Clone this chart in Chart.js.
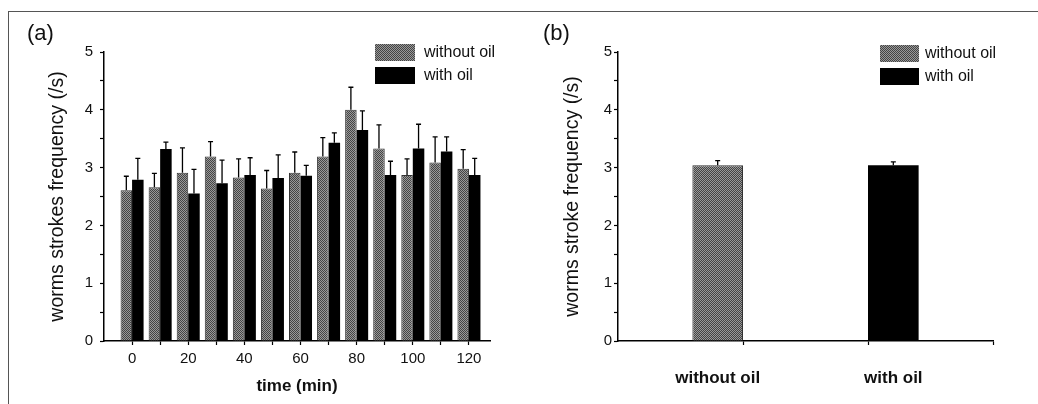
<!DOCTYPE html>
<html>
<head>
<meta charset="utf-8">
<script src="https://cdn.jsdelivr.net/npm/chart.js@4.4.0/dist/chart.umd.min.js"></script>
<style>
  body { margin: 0; background: #fff; font-family: "Liberation Sans", Arial, sans-serif; }
  #wrap { position: relative; width: 1038px; height: 404px; overflow: hidden; }
  canvas { position: absolute; top: 0; }
  #frame { position: absolute; left: 8px; top: 11px; width: 1040px; height: 400px;
           border-top: 1px solid #555; border-left: 1px solid #555; }
  .panel { position: absolute; font-size: 22px; color: #111; }
  .leg { position: absolute; font-size: 16px; color: #111; line-height: 17px; }
  .sw { position: absolute; width: 40px; height: 17px; }
  .grey { background: repeating-conic-gradient(#444 0 25%, #999 0 50%) 0 0/2px 2px; }
  .black { background: #000; }
</style>
</head>
<body>
<div id="wrap">
  <div id="frame"></div>
  <canvas id="chartA" width="519" height="404" style="left:0"></canvas>
  <canvas id="chartB" width="519" height="404" style="left:519px"></canvas>

  <div class="panel" style="left:27px;top:20px">(a)</div>
  <div class="panel" style="left:543px;top:20px">(b)</div>

  <div class="sw grey" style="left:375px;top:44px"></div>
  <div class="leg" style="left:424px;top:43px">without oil</div>
  <div class="sw black" style="left:375px;top:67px"></div>
  <div class="leg" style="left:424px;top:66px">with oil</div>

  <div class="sw grey" style="left:880px;top:45px;width:39px"></div>
  <div class="leg" style="left:925px;top:44px">without oil</div>
  <div class="sw black" style="left:880px;top:68px;width:39px"></div>
  <div class="leg" style="left:925px;top:67px">with oil</div>
</div>

<script>
// panel (a): stroke frequency over time
const times = [0, 10, 20, 30, 40, 50, 60, 70, 80, 90, 100, 110, 120];
const withoutOil = [2.61, 2.66, 2.91, 3.19, 2.83, 2.64, 2.91, 3.19, 4.00, 3.33, 2.87, 3.09, 2.98];
const withoutOilErr = [0.24, 0.24, 0.43, 0.26, 0.32, 0.31, 0.36, 0.33, 0.39, 0.41, 0.28, 0.44, 0.33];
const withOil = [2.79, 3.32, 2.55, 2.73, 2.87, 2.82, 2.86, 3.43, 3.65, 2.87, 3.33, 3.28, 2.87];
const withOilErr = [0.37, 0.12, 0.42, 0.40, 0.30, 0.40, 0.18, 0.17, 0.33, 0.24, 0.42, 0.25, 0.29];

// panel (b): mean stroke frequency
const bCategories = ["without oil", "with oil"];
const bPositions = [1, 2];
const bValues = [3.04, 3.04];
const bErrors = [0.08, 0.06];

const yTicks = [0, 0.5, 1, 1.5, 2, 2.5, 3, 3.5, 4, 4.5, 5];

// stippled grey fill like the scanned halftone
function greyPattern() {
    const c = document.createElement("canvas");
    c.width = 2; c.height = 2;
    const g = c.getContext("2d");
    g.fillStyle = "#999"; g.fillRect(0, 0, 2, 2);
    g.fillStyle = "#444"; g.fillRect(0, 0, 1, 1); g.fillRect(1, 1, 1, 1);
    return g.createPattern(c, "repeat");
}
const greyFill = greyPattern();

// upward error bars with small caps
const errorBars = {
    id: "errorBars",
    afterDatasetsDraw(chart) {
        const ctx = chart.ctx;
        const y = chart.scales.y;
        ctx.save();
        ctx.strokeStyle = "#000";
        ctx.lineWidth = 1.3;
        chart.data.datasets.forEach((ds, i) => {
            const meta = chart.getDatasetMeta(i);
            meta.data.forEach((el, j) => {
                const v = ds.data[j].y;
                const e = ds.errors[j];
                const top = y.getPixelForValue(v + e);
                ctx.beginPath();
                ctx.moveTo(el.x, el.y);
                ctx.lineTo(el.x, top);
                ctx.moveTo(el.x - 2.5, top);
                ctx.lineTo(el.x + 2.5, top);
                ctx.stroke();
            });
        });
        ctx.restore();
    }
};

function yAxis(width, pad) {
    return {
        min: 0, max: 5,
        afterBuildTicks: (s) => { s.ticks = yTicks.map((v) => ({ value: v })); },
        afterFit: (s) => { s.width = width; },
        border: { display: true, color: "#000", width: 1.5 },
        grid: { drawOnChartArea: false, drawTicks: true, tickLength: 4, tickColor: "#000", tickWidth: 1.2 },
        ticks: {
            padding: pad, color: "#111",
            font: { family: "Liberation Sans", size: 15 },
            callback: (v) => (Number.isInteger(v) ? v : "")
        }
    };
}

new Chart(document.getElementById("chartA").getContext("2d"), {
    type: "bar",
    data: {
        datasets: [
            {
                label: "without oil",
                data: times.map((t, i) => ({ x: t, y: withoutOil[i] })),
                errors: withoutOilErr,
                backgroundColor: greyFill,
                borderColor: "#333",
                borderWidth: 1,
                categoryPercentage: 0.82,
                barPercentage: 1
            },
            {
                label: "with oil",
                data: times.map((t, i) => ({ x: t, y: withOil[i] })),
                errors: withOilErr,
                backgroundColor: "#000",
                borderWidth: 0,
                categoryPercentage: 0.82,
                barPercentage: 1
            }
        ]
    },
    options: {
        responsive: false,
        animation: false,
        devicePixelRatio: 1,
        layout: { padding: { left: 42, top: 52, right: 29, bottom: 3 } },
        plugins: { legend: { display: false }, tooltip: { enabled: false } },
        scales: {
            x: {
                type: "linear",
                offset: false,
                min: -10, max: 127.5,
                afterBuildTicks: (s) => { s.ticks = times.map((v) => ({ value: v })); },
                afterFit: (s) => { s.height = 60; },
                border: { display: true, color: "#000", width: 1.5 },
                grid: { offset: false, drawOnChartArea: false, drawTicks: true, tickLength: 4, tickColor: "#000", tickWidth: 1.2 },
                ticks: {
                    autoSkip: false, maxRotation: 0, padding: 5, color: "#111",
                    font: { family: "Liberation Sans", size: 15 },
                    callback: (v) => (v % 20 === 0 ? v : "")
                },
                title: {
                    display: true, text: "time (min)", color: "#111",
                    font: { family: "Liberation Sans", size: 17, weight: "bold" }
                }
            },
            y: Object.assign(yAxis(62, 7), {
                title: {
                    display: true, text: "worms strokes frequency (/s)", color: "#111",
                    font: { family: "Liberation Sans", size: 19.5 }
                }
            })
        }
    },
    plugins: [errorBars]
});

// category labels of (b) sit under the bar centres
const barLabels = {
    id: "barLabels",
    afterDraw(chart) {
        const ctx = chart.ctx;
        ctx.save();
        ctx.font = "bold 17px 'Liberation Sans'";
        ctx.fillStyle = "#111";
        ctx.textAlign = "center";
        ctx.textBaseline = "middle";
        chart.data.datasets.forEach((ds, i) => {
            const el = chart.getDatasetMeta(i).data[0];
            ctx.fillText(bCategories[i], el.x, 378);
        });
        ctx.restore();
    }
};

new Chart(document.getElementById("chartB").getContext("2d"), {
    type: "bar",
    data: {
        datasets: [
            {
                label: "without oil",
                data: [{ x: bPositions[0], y: bValues[0] }],
                errors: [bErrors[0]],
                backgroundColor: greyFill,
                borderColor: "#333",
                borderWidth: 1,
                categoryPercentage: 0.81,
                barPercentage: 1
            },
            {
                label: "with oil",
                data: [{ x: bPositions[1], y: bValues[1] }],
                errors: [bErrors[1]],
                backgroundColor: "#000",
                borderWidth: 0,
                categoryPercentage: 0.81,
                barPercentage: 1
            }
        ]
    },
    options: {
        responsive: false,
        animation: false,
        devicePixelRatio: 1,
        layout: { padding: { left: 38, top: 52, right: 45, bottom: 3 } },
        plugins: { legend: { display: false }, tooltip: { enabled: false } },
        scales: {
            x: {
                type: "linear",
                offset: false,
                min: 0, max: 3,
                afterBuildTicks: (s) => { s.ticks = [1, 2, 3].map((v) => ({ value: v })); },
                afterFit: (s) => { s.height = 60; },
                border: { display: true, color: "#000", width: 1.5 },
                grid: { offset: false, drawOnChartArea: false, drawTicks: true, tickLength: 4, tickColor: "#000", tickWidth: 1.2 },
                ticks: { callback: () => "" }
            },
            y: Object.assign(yAxis(61, 2), {
                title: {
                    display: true, text: "worms stroke frequency (/s)", color: "#111",
                    font: { family: "Liberation Sans", size: 19.5 }
                }
            })
        }
    },
    plugins: [errorBars, barLabels]
});
</script>
</body>
</html>
